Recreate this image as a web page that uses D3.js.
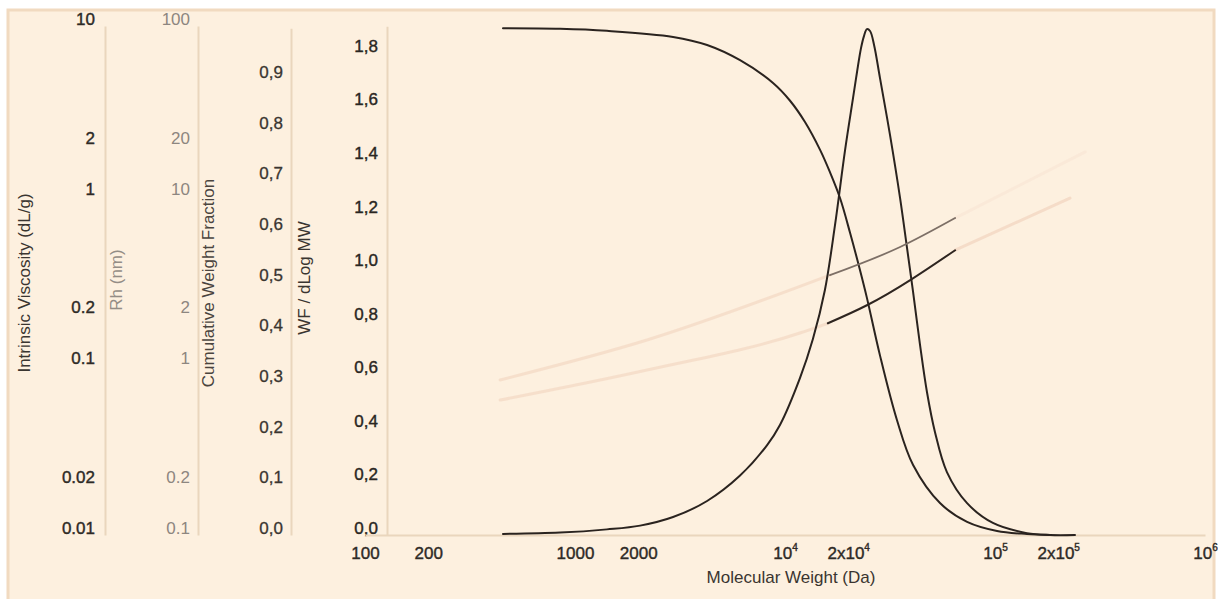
<!DOCTYPE html>
<html>
<head>
<meta charset="utf-8">
<script src="https://cdn.jsdelivr.net/npm/d3@7"></script>
<style>
  html, body { margin: 0; padding: 0; background: #ffffff; }
  svg { display: block; font-family: "Liberation Sans", Arial, sans-serif; }
</style>
</head>
<body>
<svg id="chart" width="1218" height="599"></svg>
<script>
// ---------- DATA ----------
// Weight fraction distribution (WF / dLog MW)
const mwWF = [454, 849, 1419, 2042, 2931, 4256, 6109, 8204, 9462, 11780, 13580, 15490, 17300, 19320, 21090, 22030, 23010, 23770, 24550, 25410, 26550, 28310, 31620, 35320, 38110, 40740, 43950, 47420, 51760, 59020, 73620, 97720, 141900, 182800, 240400];
const wfValues = [0.004, 0.009, 0.021, 0.035, 0.067, 0.127, 0.222, 0.335, 0.411, 0.586, 0.732, 0.915, 1.157, 1.437, 1.632, 1.729, 1.818, 1.863, 1.889, 1.882, 1.830, 1.708, 1.494, 1.258, 1.072, 0.907, 0.710, 0.534, 0.385, 0.235, 0.119, 0.045, 0.007, 0.0, 0.0];

// Cumulative weight fraction
const mwCum = [454, 849, 1419, 2931, 4256, 6109, 8770, 10570, 12450, 14690, 16370, 18280, 20420, 22750, 24550, 28310, 34120, 40740, 54700, 73620, 102300, 141900, 182800];
const cumValues = [1.0, 0.999, 0.995, 0.983, 0.967, 0.937, 0.892, 0.857, 0.815, 0.760, 0.716, 0.665, 0.596, 0.523, 0.468, 0.355, 0.227, 0.138, 0.063, 0.026, 0.008, 0.002, 0.0];

// Hydrodynamic radius (measured segment and faint extrapolations)
const mwRh = [16370, 35320, 64570];
const rhValues = [3.4, 4.98, 7.38];
const mwRhFitLow = [440, 2203, 16370];
const rhFitLow = [0.82, 1.41, 3.4];
const mwRhFitHigh = [64570, 269000];
const rhFitHigh = [7.38, 18.1];

// Intrinsic viscosity (measured segment and faint extrapolations)
const mwIV = [16000, 24550, 64600];
const ivValues = [0.177, 0.226, 0.477];
const mwIVFitLow = [440, 2203, 11780, 16000];
const ivFitLow = [0.0624, 0.0938, 0.155, 0.177];
const mwIVFitHigh = [64600, 227500];
const ivFitHigh = [0.477, 0.968];

// Tick labels
const xTicks = [100, 200, 1000, 2000, 1e4, 2e4, 1e5, 2e5, 1e6];
const xTickLabels = [["100", ""], ["200", ""], ["1000", ""], ["2000", ""], ["10", "4"], ["2x10", "4"], ["10", "5"], ["2x10", "5"], ["10", "6"]];
const ivTicks = [0.01, 0.02, 0.1, 0.2, 1, 2, 10];
const ivTickLabels = ["0.01", "0.02", "0.1", "0.2", "1", "2", "10"];
const rhTicks = [0.1, 0.2, 1, 2, 10, 20, 100];
const rhTickLabels = ["0.1", "0.2", "1", "2", "10", "20", "100"];
const cumTicks = [0, 0.1, 0.2, 0.3, 0.4, 0.5, 0.6, 0.7, 0.8, 0.9];
const wfTicks = [0, 0.2, 0.4, 0.6, 0.8, 1.0, 1.2, 1.4, 1.6, 1.8];

// ---------- DRAW ----------
const svg = d3.select("#chart");
const Y0 = 535;

svg.append("rect").attr("x", 8).attr("y", 10).attr("width", 1206).attr("height", 592)
  .attr("fill", "#fdf0df").attr("stroke", "#f1dac0").attr("stroke-width", 3);

const x = d3.scaleLog().domain([100, 1e6]).range([365, 1205]);
const yIV = d3.scaleLog().domain([0.01, 10]).range([Y0, 26]);
const yRh = d3.scaleLog().domain([0.1, 100]).range([Y0, 26]);
const yCum = d3.scaleLinear().domain([0, 1]).range([Y0, Y0 - 506.7]);
const yWF = d3.scaleLinear().domain([0, 1.9]).range([Y0, Y0 - 1.9 * 267.8]);

const axisColor = "#ead6bd";
const fs = 17;

function styleAxis(g, color, bold) {
  g.select(".domain").attr("stroke", axisColor).attr("stroke-width", 2);
  g.selectAll(".tick line").remove();
  g.selectAll(".tick text").attr("fill", color).attr("font-size", fs)
    .attr("font-family", "Liberation Sans, Arial, sans-serif")
    .attr("stroke", color).attr("stroke-width", bold)
    .attr("transform", "translate(0,-7)");
}

// Intrinsic viscosity axis
svg.append("g").attr("transform", "translate(105,0)")
  .call(d3.axisLeft(yIV).tickValues(ivTicks).tickSize(0).tickPadding(10)
    .tickFormat((d, i) => ivTickLabels[i]))
  .call(g => styleAxis(g, "#2e2a26", 0.4));

// Rh axis
svg.append("g").attr("transform", "translate(198,0)")
  .call(d3.axisLeft(yRh).tickValues(rhTicks).tickSize(0).tickPadding(8)
    .tickFormat((d, i) => rhTickLabels[i]))
  .call(g => styleAxis(g, "#8d8680", 0));

// Cumulative axis
svg.append("g").attr("transform", "translate(291,0)")
  .call(d3.axisLeft(yCum).tickValues(cumTicks).tickSize(0).tickPadding(8)
    .tickFormat(d => d3.format(".1f")(d).replace(".", ",")))
  .call(g => styleAxis(g, "#3a3530", 0.3));

// WF axis
svg.append("g").attr("transform", "translate(387,0)")
  .call(d3.axisLeft(yWF).tickValues(wfTicks).tickSize(0).tickPadding(9)
    .tickFormat(d => d3.format(".1f")(d).replace(".", ",")))
  .call(g => styleAxis(g, "#2a2622", 0.4));

// X axis
const xg = svg.append("g").attr("transform", `translate(0,${Y0})`)
  .call(d3.axisBottom(x).tickValues(xTicks).tickSize(0).tickPadding(12).tickFormat(() => ""));
xg.select(".domain").attr("stroke", axisColor).attr("stroke-width", 2);
xg.selectAll(".tick text").each(function(d, i) {
  const t = d3.select(this).attr("fill", "#2e2a26").attr("font-size", fs)
    .attr("stroke", "#2e2a26").attr("stroke-width", 0.4)
    .attr("font-family", "Liberation Sans, Arial, sans-serif");
  t.text(null);
  t.append("tspan").text(xTickLabels[i][0]);
  if (xTickLabels[i][1]) {
    t.append("tspan").attr("font-size", 10).attr("dy", -8).text(xTickLabels[i][1]);
  }
});

// Axis titles
const titles = [
  { text: "Intrinsic Viscosity (dL/g)", x: 30, y: 283, color: "#3a3530" },
  { text: "Rh (nm)", x: 122, y: 280, color: "#948d86" },
  { text: "Cumulative Weight Fraction", x: 214, y: 283, color: "#4a443e" },
  { text: "WF / dLog MW", x: 310, y: 278, color: "#3a3530" }
];
titles.forEach(t => {
  svg.append("text").attr("transform", `translate(${t.x},${t.y}) rotate(-90)`)
    .attr("text-anchor", "middle").attr("font-size", fs).attr("fill", t.color).text(t.text);
});
svg.append("text").attr("x", 791).attr("y", 583).attr("text-anchor", "middle")
  .attr("font-size", fs).attr("fill", "#3a3530").text("Molecular Weight (Da)");

// Lines
function drawLine(xs, ys, yScale, color, width, opacity, curve) {
  const pts = xs.map((m, i) => [x(m), yScale(ys[i])]);
  svg.append("path").datum(pts)
    .attr("d", d3.line().curve(curve || d3.curveMonotoneX))
    .attr("fill", "none").attr("stroke", color).attr("stroke-width", width)
    .attr("stroke-opacity", opacity).attr("stroke-linecap", "round");
}

// faint extrapolations
drawLine(mwRhFitLow, rhFitLow, yRh, "#f5dcc8", 3, 0.85);
drawLine(mwIVFitLow, ivFitLow, yIV, "#f5dcc8", 3, 0.85);
drawLine(mwRhFitHigh, rhFitHigh, yRh, "#f8e4d4", 3, 0.6);
drawLine(mwIVFitHigh, ivFitHigh, yIV, "#f3d8c4", 3, 0.85);

// main curves
const smooth = d3.curveCatmullRom.alpha(0.5);
drawLine(mwCum, cumValues, yCum, "#2a231f", 2, 1, smooth);
drawLine(mwWF, wfValues, yWF, "#2a231f", 2, 1, smooth);
drawLine(mwRh, rhValues, yRh, "#7d6f66", 1.8, 1);
drawLine(mwIV, ivValues, yIV, "#2e2520", 2, 1);
</script>
</body>
</html>
